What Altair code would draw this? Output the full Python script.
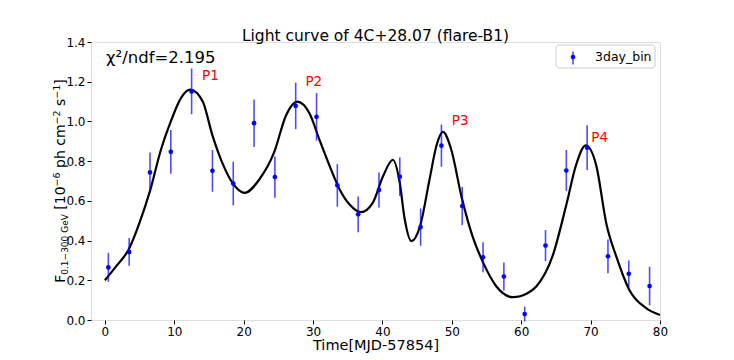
import altair as alt
import pandas as pd

# ---- data ----
bin_t = [0.5, 3.5, 6.5, 9.5, 12.5, 15.5, 18.5, 21.5, 24.5, 27.5, 30.5, 33.5, 36.5, 39.5,
         42.5, 45.5, 48.5, 51.5, 54.5, 57.5, 60.5, 63.5, 66.5, 69.5, 72.5, 75.5, 78.5]
bin_flux = [0.265, 0.343, 0.743, 0.847, 1.151, 0.751, 0.687, 0.991, 0.720, 1.078, 1.023,
            0.678, 0.532, 0.655, 0.722, 0.468, 0.878, 0.574, 0.316, 0.219, 0.030, 0.375,
            0.753, 0.868, 0.321, 0.233, 0.171]
bin_err = [0.073, 0.070, 0.100, 0.110, 0.115, 0.105, 0.110, 0.120, 0.104, 0.117, 0.120,
           0.107, 0.090, 0.088, 0.097, 0.094, 0.106, 0.096, 0.075, 0.070, 0.037, 0.078,
           0.103, 0.113, 0.085, 0.067, 0.097]

fit_t = [0, 1.5, 3.5, 5, 6.5, 8.1, 9.5, 11.0, 12.3, 14.1, 15.5, 17.0, 18.4, 20.1, 22.3,
         24.4, 26.1, 27.7, 29.5, 30.9, 32.4, 33.8, 35.3, 36.9, 38.6, 40.1, 41.5, 42.5,
         43.2, 44.2, 45.4, 46.8, 47.8, 48.7, 49.9, 51.4, 53.0, 54.5, 56.4, 58.8, 60.9,
         62.2, 64.5, 66.5, 67.9, 69.3, 70.8, 72.3, 73.7, 75.6, 78.0, 80.0]
fit_flux = [0.20, 0.265, 0.36, 0.49, 0.65, 0.86, 1.00, 1.12, 1.16, 1.10, 0.93, 0.785,
            0.69, 0.64, 0.71, 0.845, 1.03, 1.10, 1.04, 0.91, 0.775, 0.66, 0.58, 0.543,
            0.59, 0.725, 0.807, 0.69, 0.51, 0.397, 0.47, 0.71, 0.88, 0.947, 0.86, 0.62,
            0.42, 0.29, 0.17, 0.115, 0.135, 0.17, 0.32, 0.58, 0.78, 0.88, 0.78, 0.48,
            0.32, 0.15, 0.06, 0.025]

peak_names = ["P1", "P2", "P3", "P4"]
peak_t = [15.2, 30.1, 51.2, 71.3]
peak_flux = [1.23, 1.20, 1.00, 0.917]

x_ticks = [0, 10, 20, 30, 40, 50, 60, 70, 80]
y_ticks = [0.0, 0.2, 0.4, 0.6, 0.8, 1.0, 1.2, 1.4]

title_text = "Light curve of 4C+28.07 (flare-B1)"
x_title = "Time[MJD-57854]"
chi_text = "χ²/ndf=2.195"
legend_label = "3day_bin"

FONT = "DejaVu Sans"
W, H = 569, 278

pts = pd.DataFrame({"t": bin_t, "f": bin_flux, "e": bin_err})
pts["lo"] = pts["f"] - pts["e"]
pts["hi"] = pts["f"] + pts["e"]
fit = pd.DataFrame({"t": fit_t, "f": fit_flux})
peaks = pd.DataFrame({"name": peak_names, "t": peak_t, "f": peak_flux})
one = pd.DataFrame({"label": [legend_label]})

xscale = alt.Scale(domain=[-2, 80], nice=False, zero=False)
yscale = alt.Scale(domain=[0, 1.4], nice=False, zero=False)

xaxis = alt.Axis(values=x_ticks, title=x_title, grid=False, domain=False,
                 tickColor="black", tickSize=4, labelFontSize=12, labelFont=FONT,
                 labelColor="black", titleFont=FONT, titleFontSize=14.5,
                 titleFontWeight="normal", titleColor="black", titlePadding=1.5,
                 labelPadding=2, format="d", labelOverlap=False, labelFlush=False)
yaxis = alt.Axis(values=y_ticks, title="", grid=False, domain=False, tickColor="black",
                 tickSize=4, labelFontSize=12, labelFont=FONT, labelColor="black",
                 labelPadding=2, format=".1f", labelOverlap=False, labelFlush=False,
                 tickCount=8)

X = alt.X("t:Q", scale=xscale, axis=xaxis)

fit_line = alt.Chart(fit).mark_line(color="black", strokeWidth=2.2, interpolate="monotone").encode(
    x=X, y=alt.Y("f:Q", scale=yscale, axis=yaxis),
)

bars = alt.Chart(pts).mark_rule(color="#0000ff", opacity=0.7, strokeWidth=1.6).encode(
    x=X, y=alt.Y("lo:Q", scale=yscale, axis=yaxis), y2="hi:Q",
)
dots = alt.Chart(pts).mark_circle(color="#0000ff", opacity=1, size=22).encode(
    x=X, y=alt.Y("f:Q", scale=yscale, axis=yaxis),
)

peak_text = alt.Chart(peaks).mark_text(color="red", fontSize=13.5, font=FONT,
                                       align="center", baseline="middle").encode(
    x=X, y=alt.Y("f:Q", scale=yscale, axis=yaxis), text="name:N",
)

chi = alt.Chart(one).mark_text(text=chi_text, fontSize=16.5, font=FONT, color="black",
                               align="left", baseline="middle").encode(
    x=alt.value(15), y=alt.value(16))

title = alt.Chart(one).mark_text(text=title_text, fontSize=15.5, font=FONT, color="black",
                                 align="center", baseline="alphabetic").encode(
    x=alt.value(W / 2), y=alt.value(-1.5))

# legend
leg_box = alt.Chart(one).mark_rect(fill="white", stroke="#cccccc", strokeWidth=1,
                                   cornerRadius=3).encode(
    x=alt.value(465), x2=alt.value(564), y=alt.value(3), y2=alt.value(26))
leg_bar = alt.Chart(one).mark_rule(color="#0000ff", opacity=0.7, strokeWidth=1.6).encode(
    x=alt.value(482), y=alt.value(9.5), y2=alt.value(22.5))
leg_dot = alt.Chart(one).mark_circle(color="#0000ff", opacity=1, size=22).encode(
    x=alt.value(482), y=alt.value(15))
leg_txt = alt.Chart(one).mark_text(fontSize=12.5, font=FONT, color="black", align="left",
                                   baseline="middle").encode(
    x=alt.value(504), y=alt.value(15), text="label:N")

# rotated y title built from pieces (subscript / superscripts)
ADV = {"[": 0.390, "]": 0.390, "0": 0.636, "1": 0.636, "2": 0.636, "3": 0.636, "6": 0.636,
       " ": 0.318, "p": 0.635, "h": 0.634, "c": 0.550, "m": 0.974, "s": 0.521,
       "−": 0.838, "F": 0.575, ".": 0.318, "G": 0.775, "e": 0.615, "V": 0.684}
MAIN, SMALL = 14, 9.5
segments = [("F", MAIN, 0), ("0.1−300 GeV", 9, 3), (" [10", MAIN, 0), ("−6", SMALL, -5.5),
            (" ph cm", MAIN, 0), ("−2", SMALL, -5.5), (" s", MAIN, 0), ("−1", SMALL, -5.5),
            ("]", MAIN, 0)]
widths = [sum(ADV.get(ch, 0.6) for ch in s) * fs for s, fs, _ in segments]
total = sum(widths)
base_x = -26
pos = H / 2 + total / 2
ylayers = []
for (s, fs, shift), w in zip(segments, widths):
    lead = (len(s) - len(s.lstrip(" "))) * ADV[" "] * fs
    ylayers.append(
        alt.Chart(one).mark_text(text=s.lstrip(" "), fontSize=fs, font=FONT, color="black",
                                 angle=270, align="left", baseline="alphabetic").encode(
            x=alt.value(base_x + shift), y=alt.value(pos - lead))
    )
    pos -= w

chart = alt.layer(
    fit_line, bars, dots, peak_text, chi, title, leg_box, leg_bar, leg_dot, leg_txt,
    *ylayers,
).properties(
    width=W, height=H,
    autosize=alt.AutoSizeParams(type="none"),
    padding={"left": 83, "top": 34, "right": 66, "bottom": 36},
).configure_view(stroke="black", strokeWidth=1).configure(background="white")

chart.save("out.html", embed_options={"renderer": "svg", "actions": False})
